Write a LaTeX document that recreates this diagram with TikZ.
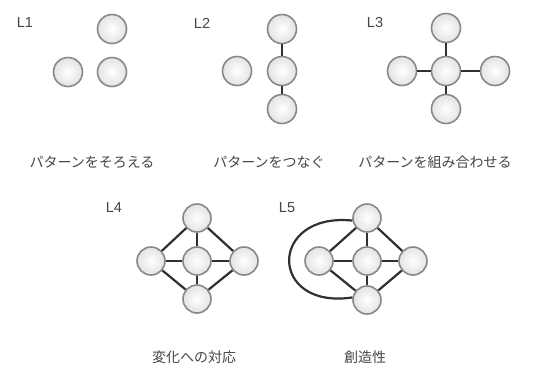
\documentclass[tikz,border=0pt]{standalone}
\usepackage{fontspec}
\newfontfamily\cjk{Noto Sans CJK JP}
\newfontfamily\lab{Liberation Sans}
\definecolor{ringc}{HTML}{888888}
\definecolor{edgec}{HTML}{303030}
\definecolor{textc}{HTML}{444444}
\tikzset{
  ball/.style={circle, minimum size=29pt, inner sep=0pt, draw=ringc, line width=1.6pt,
    inner color=white, outer color=black!11},
  sball/.style={ball, minimum size=28pt},
  link/.style={draw=edgec, line width=2.2pt},
  lvl/.style={font=\lab\fontsize{14.5}{16}\selectfont, text=textc, inner sep=0pt},
  captext/.style={font=\cjk\fontsize{14}{16}\selectfont, text=textc, inner sep=0pt}
}
\begin{document}
\begin{tikzpicture}[x=1pt,y=-1pt]
\useasboundingbox (0,0) rectangle (537,365);
% L1
\node[lvl] (l1) at (25,23) {L1};
\node[ball] (a1) at (112,29) {};
\node[ball] (a2) at (68,72) {};
\node[ball] (a3) at (112,72) {};
% L2
\node[lvl] (l2) at (202,23) {L2};
\node[ball] (b0) at (237,71) {};
\node[ball] (b1) at (282,29) {};
\node[ball] (b2) at (282,71) {};
\node[ball] (b3) at (282,109) {};
\draw[link] (b1) -- (b2);
\draw[link] (b2) -- (b3);
% L3
\node[lvl] (l3) at (375,23) {L3};
\node[ball] (c0) at (446,71) {};
\node[ball] (ct) at (446,28) {};
\node[ball] (cb) at (446,109) {};
\node[ball] (cl) at (402,71) {};
\node[ball] (cr) at (495,71) {};
\draw[link] (c0) -- (ct);
\draw[link] (c0) -- (cb);
\draw[link] (c0) -- (cl);
\draw[link] (c0) -- (cr);
% captions row 1
\node[captext] (t1) at (92,162) {パターンをそろえる};
\node[captext] (t2) at (269,162) {パターンをつなぐ};
\node[captext] (t3) at (435,162) {パターンを組み合わせる};
% L4
\node[lvl] (l4) at (114,208) {L4};
\node[sball] (d0) at (197,261) {};
\node[sball] (dt) at (197,218) {};
\node[sball] (db) at (197,299) {};
\node[sball] (dl) at (151,261) {};
\node[sball] (dr) at (244,261) {};
\draw[link] (d0) -- (dt);
\draw[link] (d0) -- (db);
\draw[link] (d0) -- (dl);
\draw[link] (d0) -- (dr);
\draw[link] (dt) -- (dl);
\draw[link] (dt) -- (dr);
\draw[link] (db) -- (dl);
\draw[link] (db) -- (dr);
% L5
\node[lvl] (l5) at (287,208) {L5};
\node[sball] (e0) at (367,261) {};
\node[sball] (et) at (367,218) {};
\node[sball] (eb) at (367,300) {};
\node[sball] (el) at (319,261) {};
\node[sball] (er) at (413,261) {};
\draw[link] (e0) -- (et);
\draw[link] (e0) -- (eb);
\draw[link] (e0) -- (el);
\draw[link] (e0) -- (er);
\draw[link] (et) -- (el);
\draw[link] (et) -- (er);
\draw[link] (eb) -- (el);
\draw[link] (eb) -- (er);
\draw[link] (et.190) .. controls (268,212) and (268,310) .. (eb.170);
% captions row 2
\node[captext] (t4) at (194,357) {変化への対応};
\node[captext] (t5) at (365,357) {創造性};
\end{tikzpicture}
\end{document}
